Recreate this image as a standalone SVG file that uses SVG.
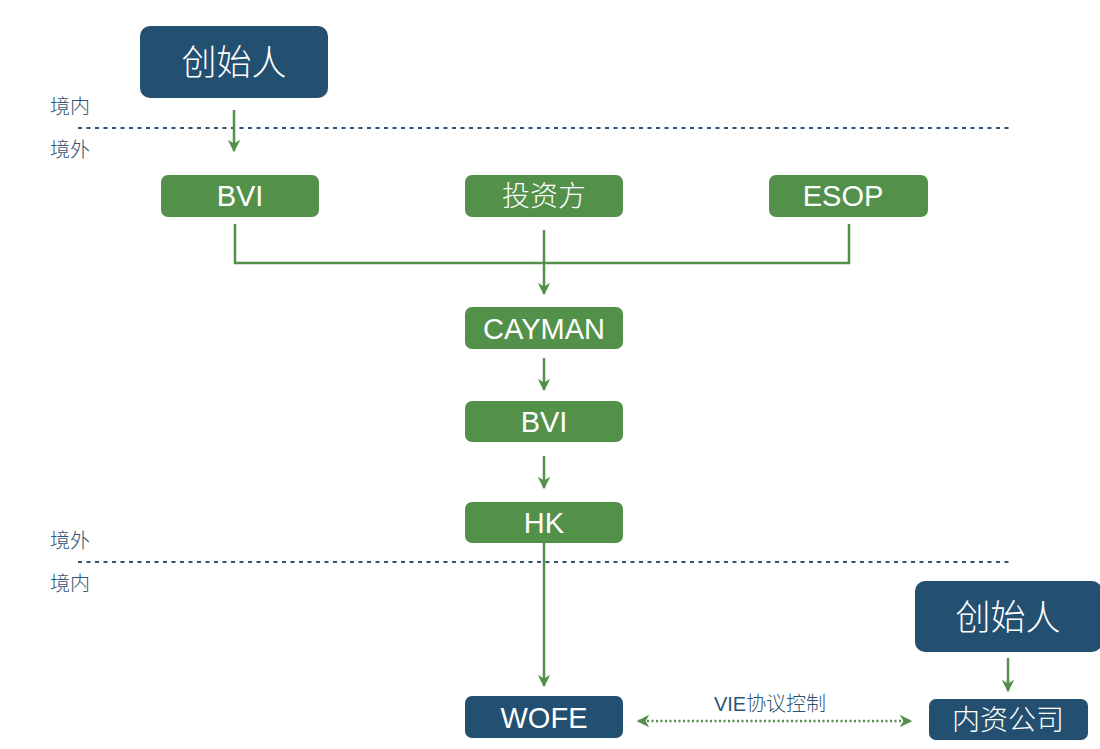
<svg xmlns="http://www.w3.org/2000/svg" width="1100" height="749" viewBox="0 0 1100 749">
<style>
.blue{fill:#234f71}
.green{fill:#53914a}
.t{fill:#ffffff;font-family:"Liberation Sans","Noto Sans CJK SC",sans-serif;text-anchor:middle}
.cjk{font-family:"Noto Sans CJK SC",sans-serif;font-weight:300}
.lbl{fill:#2f5474;font-family:"Noto Sans CJK SC",sans-serif;font-size:20px;font-weight:300}
.dash{stroke:#2f5474;stroke-width:2;stroke-dasharray:4 4.5;fill:none}
.c{stroke:#53914a;stroke-width:2.5;fill:none}
</style>
<defs>
<marker id="ah" viewBox="0 0 10 10" refX="9" refY="5" markerWidth="5" markerHeight="5" orient="auto-start-reverse" markerUnits="strokeWidth">
<path d="M0,0 L10,5 L0,10 L3,5 Z" fill="#53914a"/>
</marker>
</defs>
<line class="dash" x1="78" y1="128" x2="1010" y2="128"/>
<line class="dash" x1="78" y1="562" x2="1010" y2="562"/>
<text class="lbl" x="50" y="114">境内</text>
<text class="lbl" x="50" y="157">境外</text>
<text class="lbl" x="50" y="548">境外</text>
<text class="lbl" x="50" y="591">境内</text>
<g id="connectors">
<line class="c" x1="234" y1="110" x2="234" y2="151" marker-end="url(#ah)"/>
<polyline class="c" points="235,224 235,263 849,263 849,224"/>
<line class="c" x1="544" y1="230" x2="544" y2="294" marker-end="url(#ah)"/>
<line class="c" x1="544" y1="358" x2="544" y2="390" marker-end="url(#ah)"/>
<line class="c" x1="544" y1="456" x2="544" y2="488" marker-end="url(#ah)"/>
<line class="c" x1="544" y1="543" x2="544" y2="686" marker-end="url(#ah)"/>
<line class="c" x1="1008" y1="658" x2="1008" y2="691" marker-end="url(#ah)"/>
<line x1="638" y1="721" x2="911" y2="721" stroke="#53914a" stroke-width="2.5" stroke-dasharray="2 2.5" marker-start="url(#ah)" marker-end="url(#ah)"/>
<text x="770" y="711" text-anchor="middle" fill="#2f5474" font-size="20" font-family="Liberation Sans, Noto Sans CJK SC, sans-serif">VIE<tspan class="cjk">协议控制</tspan></text>
</g>
<g id="founder-top"><rect class="blue" x="140" y="26" width="188" height="72" rx="10"/><text class="t cjk" x="234" y="75" font-size="35">创始人</text></g>
<g id="bvi1"><rect class="green" x="161" y="175" width="158" height="42" rx="7"/><text class="t" x="240" y="206" font-size="29">BVI</text></g>
<g id="investor"><rect class="green" x="465" y="175" width="158" height="42" rx="7"/><text class="t cjk" x="544" y="206" font-size="28">投资方</text></g>
<g id="esop"><rect class="green" x="769" y="175" width="159" height="42" rx="7"/><text class="t" x="843" y="206" font-size="29">ESOP</text></g>
<g id="cayman"><rect class="green" x="465" y="307" width="158" height="42" rx="7"/><text class="t" x="544" y="339" font-size="29">CAYMAN</text></g>
<g id="bvi2"><rect class="green" x="465" y="401" width="158" height="41" rx="7"/><text class="t" x="544" y="432" font-size="29">BVI</text></g>
<g id="hk"><rect class="green" x="465" y="502" width="158" height="41" rx="7"/><text class="t" x="544" y="533" font-size="29">HK</text></g>
<g id="wofe"><rect class="blue" x="465" y="696" width="158" height="42" rx="7"/><text class="t" x="544" y="728" font-size="29">WOFE</text></g>
<g id="founder-bottom"><rect class="blue" x="915" y="581" width="187" height="71" rx="10"/><text class="t cjk" x="1008" y="630" font-size="35">创始人</text></g>
<g id="domestic"><rect class="blue" x="929" y="699" width="159" height="41" rx="7"/><text class="t cjk" x="1008" y="730" font-size="28">内资公司</text></g>
</svg>
